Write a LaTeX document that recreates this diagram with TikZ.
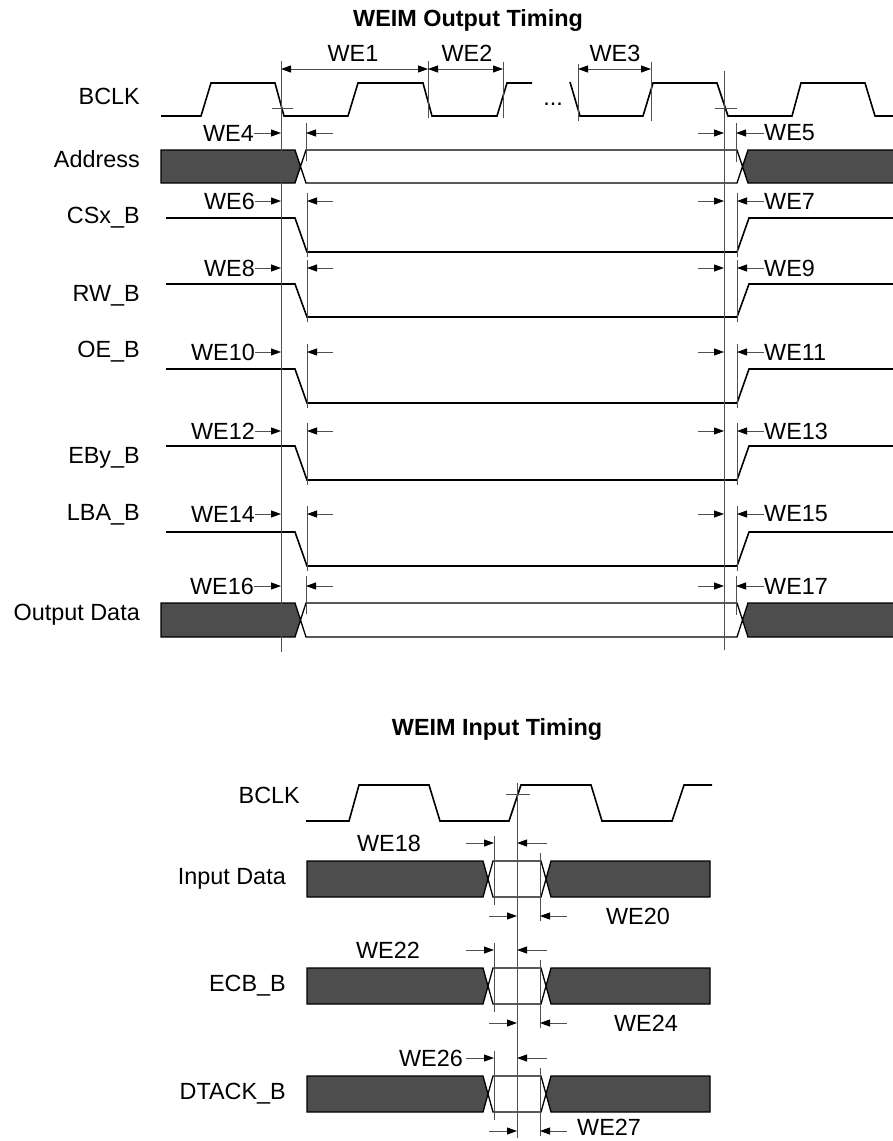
\documentclass[tikz,border=0pt]{standalone}
\usepackage{fontspec}
\setmainfont{Liberation Sans}
\usepackage{tikz}
\usetikzlibrary{arrows.meta}
\definecolor{busgray}{RGB}{77,77,77}
\definecolor{refgray}{RGB}{80,80,80}
\newcommand\lbl{\fontsize{23.4}{28}\selectfont}

\begin{document}
\begin{tikzpicture}[x=1pt,y=-1pt,font=\lbl,inner sep=0pt,
    sig/.style={line width=1.6pt},
    bus/.style={line width=1.3pt},
    ref/.style={line width=0.9pt,color=refgray},
    dim/.style={line width=0.9pt,color=refgray,-{Triangle[length=10pt,width=7pt,color=black]}},
    dimboth/.style={line width=0.9pt,color=refgray,{Triangle[length=10pt,width=7pt,color=black]}-{Triangle[length=10pt,width=7pt,color=black]}}]
    \useasboundingbox (0,0) rectangle (893,1141);

    % titles
    \node[font=\lbl\bfseries,anchor=base] (tout) at (468,26) {WEIM Output Timing};
    \node[font=\lbl\bfseries,anchor=base] (tin) at (497,735) {WEIM Input Timing};

    % output clock
    \node[anchor=base east] (clkout) at (140,104) {BCLK};
    \draw[sig] (161,116) -- (201,116) -- (211,83) -- (275,83) -- (284,116) -- (348,116) -- (358,83) -- (423,83) -- (432,116) -- (497,116) -- (507,83) -- (532,83);
    \draw[sig] (570,82) -- (580,116) -- (643,116) -- (653,83) -- (717,83) -- (728,116) -- (792,116) -- (801,83) -- (865,83) -- (875,116) -- (895,116);
    \node[anchor=base] (dots) at (553,105) {...};

    % clock periods
    \draw[ref] (428,61) -- (428,118) (503,62) -- (503,118) (578,64) -- (578,121) (651,62) -- (651,121);
    \draw[dimboth] (281,69) -- (428,69);
    \draw[dimboth] (428,69) -- (503,69);
    \draw[dimboth] (578,69) -- (651,69);
    \node (we1) at (353,53) {WE1};
    \node (we2) at (467,53) {WE2};
    \node (we3) at (615,53) {WE3};

    % output buses
    \foreach \lab/\t/\b/\wa/\wb in {Address/150/183/4/5, Output Data/603/637/16/17}{
        \node[anchor=base east] (s\wa) at (140,\t+17.5) {\lab};
        \fill[busgray] (161,\t) -- (295,\t) -- (300.5,{(\t+\b)/2}) -- (295,\b) -- (161,\b) -- cycle;
        \fill[busgray] (895,\t) -- (748,\t) -- (742.5,{(\t+\b)/2}) -- (748,\b) -- (895,\b) -- cycle;
        \draw[bus] (895,\t) -- (748,\t) -- (737,\b) -- (306,\b) -- (295,\t) -- (161,\t) -- (161,\b) -- (295,\b) -- (306,\t) -- (737,\t) -- (748,\b) -- (895,\b);
        \node[anchor=east] (we\wa) at (254,\t-17) {WE\wa};
        \draw[dim] (we\wa) -- (281,\t-17);
        \draw[ref] (306,\t-27) -- (306,\t+11);
        \draw[dim] (333,\t-17) -- (306,\t-17);
        \draw[dim] (698,\t-17) -- (724,\t-17);
        \draw[ref] (736,\t-27) -- (736,\t+12);
        \node[anchor=west] (we\wb) at (764,\t-17) {WE\wb};
        \draw[dim] (we\wb) -- (736,\t-17);
    }

    % output strobes
    \foreach \lab/\ay/\hy/\ly/\lb/\wa/\wb in {CSx\_B/201/218/252/223/6/7, RW\_B/268/284/317/301/8/9, OE\_B/352/369/403/357/10/11, EBy\_B/431/446/480/463/12/13, LBA\_B/514/532/566/520/14/15}{
        \node[anchor=base east] (s\wa) at (140,\lb) {\lab};
        \draw[sig] (166,\hy) -- (295,\hy) -- (307,\ly) -- (737,\ly) -- (749,\hy) -- (895,\hy);
        \node[anchor=east] (we\wa) at (255,\ay) {WE\wa};
        \draw[dim] (we\wa) -- (281,\ay);
        \draw[ref] (307,\ay-8) -- (307,\ly+5);
        \draw[dim] (333,\ay) -- (307,\ay);
        \draw[dim] (698,\ay) -- (724,\ay);
        \draw[ref] (737,\ay-8) -- (737,\ly+5);
        \node[anchor=west] (we\wb) at (764,\ay) {WE\wb};
        \draw[dim] (we\wb) -- (737,\ay);
    }

    % reference edges
    \draw[ref] (281,61) -- (281,652) (272,108) -- (293,108);
    \draw[ref] (724,71) -- (724,650) (715,108) -- (737,108);

    % input clock
    \node[anchor=base east] (clkin) at (300,803) {BCLK};
    \draw[sig] (306,821) -- (349,821) -- (359,785) -- (429,785) -- (440,821) -- (509,821) -- (521,785) -- (591,785) -- (602,821) -- (672,821) -- (684,785) -- (712,785);

    % input buses
    \foreach \lab/\t/\wa/\la/\lx/\wb/\lc/\ly/\lh in {Input Data/861/18/center/389/20/center/638/55, ECB\_B/968/22/center/388/24/center/646/55, DTACK\_B/1076/26/east/463/27/west/577/51}{
        \node[anchor=base east] (s\wa) at (286,\t+23.5) {\lab};
        \fill[busgray] (307,\t) -- (483,\t) -- (488,\t+18) -- (483,\t+36) -- (307,\t+36) -- cycle;
        \fill[busgray] (546,\t+18) -- (551,\t) -- (710,\t) -- (710,\t+36) -- (551,\t+36) -- cycle;
        \draw[bus] (307,\t) -- (483,\t) -- (493,\t+36) -- (541,\t+36) -- (551,\t) -- (710,\t) -- (710,\t+36) -- (551,\t+36) -- (541,\t) -- (493,\t) -- (483,\t+36) -- (307,\t+36) -- cycle;
        \node[anchor=\la] (we\wa) at (\lx,\t-18) {WE\wa};
        \draw[dim] (466,\t-18) -- (494,\t-18);
        \draw[ref] (494,\t-25) -- (494,\t+44);
        \draw[dim] (547,\t-18) -- (517,\t-18);
        \draw[ref] (540,\t-8) -- (540,\t+60);
        \draw[dim] (489,\t+55) -- (517,\t+55);
        \draw[dim] (567,\t+55) -- (540,\t+55);
        \node[anchor=\lc] (we\wb) at (\ly,\t+\lh) {WE\wb};
    }
    \draw[ref] (517,783) -- (517,1138) (506,794) -- (530,794);
\end{tikzpicture}
\end{document}
